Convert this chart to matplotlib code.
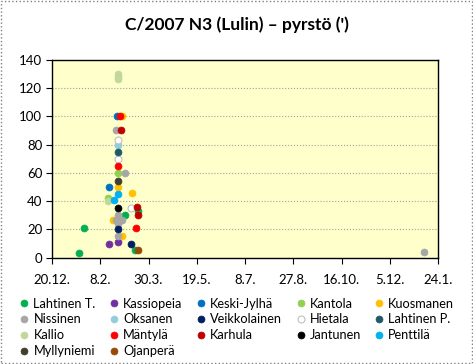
import datetime as dt
import numpy as np
import matplotlib
matplotlib.use("Agg")
import matplotlib.pyplot as plt
from matplotlib.patches import Rectangle

plt.rcParams['font.family'] = ['Lato', 'DejaVu Sans']

# observers, colours and observations (date, tail length ')
observers = ["Lahtinen T.", "Kassiopeia", "Keski-Jylhä", "Kantola", "Kuosmanen",
             "Nissinen", "Oksanen", "Veikkolainen", "Hietala", "Lahtinen P.",
             "Kallio", "Mäntylä", "Karhula", "Jantunen", "Penttilä",
             "Myllyniemi", "Ojanperä"]
colors = ["#00b050", "#7030a0", "#0070c0", "#92d050", "#ffc000",
          "#a6a6a6", "#92cddc", "#002060", "#ffffff", "#215967",
          "#c4d79b", "#ff0000", "#c00000", "#000000", "#00b0f0",
          "#3f3f2f", "#984807"]

lahtinen_t_dates = ["2009-01-17", "2009-01-22", "2009-03-06", "2009-03-19", "2009-03-16"]
lahtinen_t_vals = [3, 21, 30, 33, 5.5]
kassiopeia_dates = ["2009-02-17", "2009-02-26"]
kassiopeia_vals = [10, 11]
keskijylha_dates = ["2009-02-25", "2009-02-17"]
keskijylha_vals = [100, 50]
kantola_dates = ["2009-02-26", "2009-02-16"]
kantola_vals = [60, 42]
kuosmanen_dates = ["2009-03-02", "2009-02-26", "2009-03-13", "2009-02-21", "2009-03-02"]
kuosmanen_vals = [100, 50, 46, 27, 15]
nissinen_dates = ["2009-02-24", "2009-03-06", "2009-02-26", "2009-02-24", "2009-03-03",
                  "2009-02-26", "2009-02-26", "2010-01-09"]
nissinen_vals = [90, 60, 30, 27, 27, 24, 15, 4]
oksanen_dates = ["2009-02-26"]
oksanen_vals = [80]
veikkolainen_dates = ["2009-02-26", "2009-03-12"]
veikkolainen_vals = [20, 10]
hietala_dates = ["2009-02-26", "2009-02-26", "2009-03-12"]
hietala_vals = [83, 70, 35]
lahtinen_p_dates = ["2009-02-26"]
lahtinen_p_vals = [75]
kallio_dates = ["2009-02-26", "2009-02-26", "2009-02-26", "2009-02-16"]
kallio_vals = [126, 128, 130, 40]
mantyla_dates = ["2009-02-28", "2009-02-26", "2009-03-17"]
mantyla_vals = [100, 65, 21]
karhula_dates = ["2009-03-01", "2009-03-18", "2009-03-19"]
karhula_vals = [90, 36, 30]
jantunen_dates = ["2009-02-26"]
jantunen_vals = [35]
penttila_dates = ["2009-02-26", "2009-02-22"]
penttila_vals = [45, 41]
myllyniemi_dates = ["2009-02-26"]
myllyniemi_vals = [54]
ojanpera_dates = ["2009-03-19"]
ojanpera_vals = [5.5]

series = [
    (lahtinen_t_dates, lahtinen_t_vals), (kassiopeia_dates, kassiopeia_vals),
    (keskijylha_dates, keskijylha_vals), (kantola_dates, kantola_vals),
    (kuosmanen_dates, kuosmanen_vals), (nissinen_dates, nissinen_vals),
    (oksanen_dates, oksanen_vals), (veikkolainen_dates, veikkolainen_vals),
    (hietala_dates, hietala_vals), (lahtinen_p_dates, lahtinen_p_vals),
    (kallio_dates, kallio_vals), (mantyla_dates, mantyla_vals),
    (karhula_dates, karhula_vals), (jantunen_dates, jantunen_vals),
    (penttila_dates, penttila_vals), (myllyniemi_dates, myllyniemi_vals),
    (ojanpera_dates, ojanpera_vals),
]

x_start = dt.date(2008, 12, 20)
x_end = dt.date(2010, 1, 24)

fig = plt.figure(figsize=(4.73, 3.64), dpi=100)
ax = fig.add_axes([0.110, 0.292, 0.816, 0.544])
ax.set_facecolor("#ffffcc")

handles = []
for name, col, (d, v) in zip(observers, colors, series):
    dd = [dt.datetime.strptime(s, "%Y-%m-%d") for s in d]
    if col == "#ffffff":
        h, = ax.plot(dd, v, 'o', ms=5, mfc="white", mec="#bfbfbf", mew=0.8, ls='none', label=name)
    else:
        h, = ax.plot(dd, v, 'o', ms=5, mfc=col, mec=col, mew=0.5, ls='none', label=name)
    handles.append(h)

ax.set_xlim(x_start, x_end)
ax.set_ylim(0, 140)
ax.set_yticks(np.arange(0, 141, 20))
ticks = [x_start + dt.timedelta(days=50 * i) for i in range(9)]
ax.set_xticks(ticks)
ax.set_xticklabels(["%d.%d." % (t.day, t.month) for t in ticks])
ax.grid(axis='y', color="#a0a0a0", ls=':', lw=0.8)
ax.tick_params(labelsize=9.5, colors="#000000", direction='out', length=4, pad=8)
ax.tick_params(axis='y', pad=3)
for s in ax.spines.values():
    s.set_color("#000000")
    s.set_linewidth(1.0)

fig.text(0.5, 0.931, "C/2007 N3 (Lulin) – pyrstö (')", ha='center', va='center',
         fontsize=12.5, fontweight='bold')

# reorder so the legend fills row by row
order = [i for c in range(5) for i in range(c, len(handles), 5)]
fig.legend([handles[i] for i in order], [observers[i] for i in order],
           ncol=5, loc='upper left', bbox_to_anchor=(0.022, 0.2), frameon=False,
           fontsize=9.2, handletextpad=0.1, columnspacing=0.85, labelspacing=0.3,
           borderpad=0, handlelength=1.2)

fig.patches.append(Rectangle((0.002, 0.003), 0.996, 0.994, transform=fig.transFigure,
                             fill=False, ec="#808080", ls=':', lw=1))

fig.savefig("out.png", dpi=100)
